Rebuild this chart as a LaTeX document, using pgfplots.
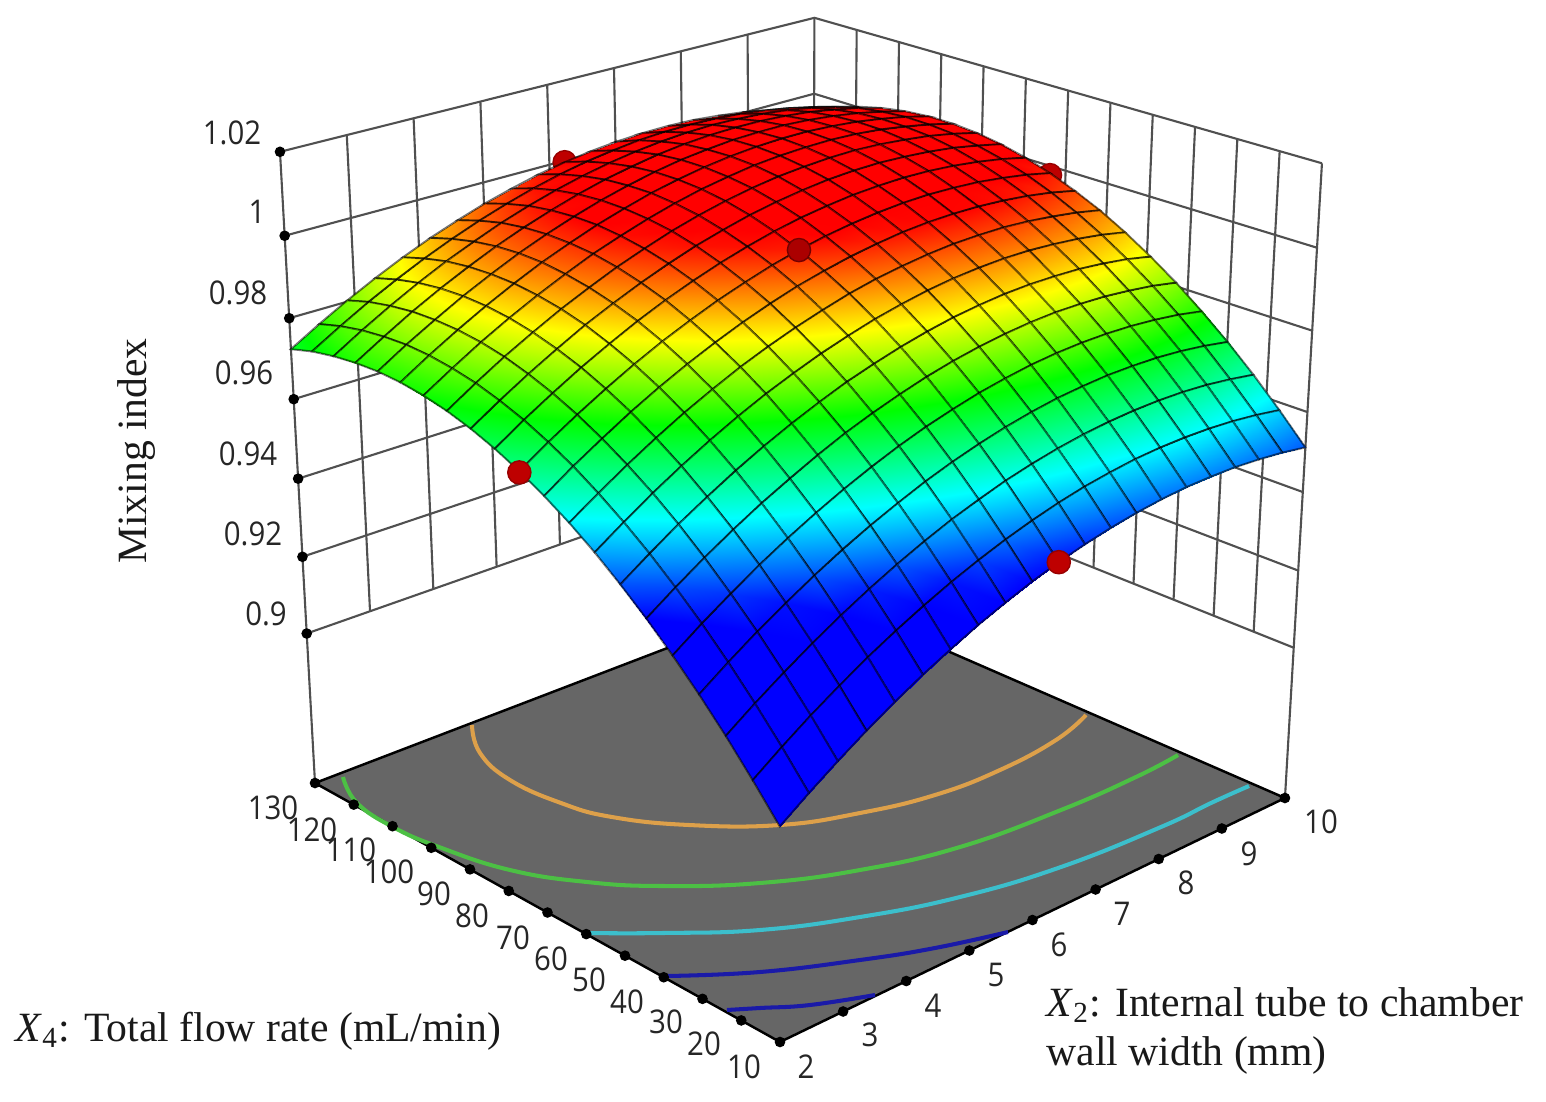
\documentclass[border=0pt]{standalone}
\usepackage{fontspec}
\setmainfont{Liberation Serif}
\newfontfamily\tickfont{Open Sans}
\usepackage{pgfplots}
\usepackage{pgfplotstable}
\pgfplotsset{compat=1.18}
\definecolor{wallline}{HTML}{505050}
\definecolor{floorgray}{HTML}{666666}
\definecolor{cOrange}{HTML}{DDA04A}
\definecolor{cGreen}{HTML}{4CC044}
\definecolor{cCyan}{HTML}{3CBFCC}
\definecolor{cBlue}{HTML}{1A1AA8}
\definecolor{dotred}{HTML}{BE0000}

% mixing index: X2, X4, z (back corner first)
\pgfplotstableread[row sep=\\]{
a b c\\
10 130 .9958\\ 9.6 130 .9976\\ 9.2 130 .9990\\ 8.8 130 1.0002\\ 8.4 130 1.0010\\ 8 130 1.0016\\ 7.6 130 1.0018\\ 7.2 130 1.0017\\ 6.8 130 1.0013\\ 6.4 130 1.0006\\ 6 130 .9996\\ 5.6 130 .9983\\ 5.2 130 .9966\\ 4.8 130 .9947\\ 4.4 130 .9924\\ 4 130 .9899\\ 3.6 130 .9870\\ 3.2 130 .9838\\ 2.8 130 .9803\\ 2.4 130 .9765\\ 2 130 .9724\\
10 124 .9983\\ 9.6 124 1.0000\\ 9.2 124 1.0014\\ 8.8 124 1.0025\\ 8.4 124 1.0033\\ 8 124 1.0038\\ 7.6 124 1.0040\\ 7.2 124 1.0039\\ 6.8 124 1.0035\\ 6.4 124 1.0027\\ 6 124 1.0017\\ 5.6 124 1.0003\\ 5.2 124 .9986\\ 4.8 124 .9966\\ 4.4 124 .9943\\ 4 124 .9917\\ 3.6 124 .9888\\ 3.2 124 .9856\\ 2.8 124 .9821\\ 2.4 124 .9782\\ 2 124 .9741\\
10 118 1.0002\\ 9.6 118 1.0019\\ 9.2 118 1.0033\\ 8.8 118 1.0044\\ 8.4 118 1.0052\\ 8 118 1.0056\\ 7.6 118 1.0058\\ 7.2 118 1.0056\\ 6.8 118 1.0051\\ 6.4 118 1.0043\\ 6 118 1.0032\\ 5.6 118 1.0018\\ 5.2 118 1.0001\\ 4.8 118 .9981\\ 4.4 118 .9958\\ 4 118 .9931\\ 3.6 118 .9902\\ 3.2 118 .9869\\ 2.8 118 .9833\\ 2.4 118 .9794\\ 2 118 .9752\\
10 112 1.0017\\ 9.6 112 1.0034\\ 9.2 112 1.0047\\ 8.8 112 1.0058\\ 8.4 112 1.0065\\ 8 112 1.0069\\ 7.6 112 1.0070\\ 7.2 112 1.0068\\ 6.8 112 1.0063\\ 6.4 112 1.0055\\ 6 112 1.0043\\ 5.6 112 1.0029\\ 5.2 112 1.0011\\ 4.8 112 .9990\\ 4.4 112 .9967\\ 4 112 .9940\\ 3.6 112 .9910\\ 3.2 112 .9877\\ 2.8 112 .9841\\ 2.4 112 .9801\\ 2 112 .9759\\
10 106 1.0027\\ 9.6 106 1.0043\\ 9.2 106 1.0056\\ 8.8 106 1.0066\\ 8.4 106 1.0073\\ 8 106 1.0077\\ 7.6 106 1.0077\\ 7.2 106 1.0075\\ 6.8 106 1.0069\\ 6.4 106 1.0061\\ 6 106 1.0049\\ 5.6 106 1.0034\\ 5.2 106 1.0016\\ 4.8 106 .9995\\ 4.4 106 .9971\\ 4 106 .9944\\ 3.6 106 .9913\\ 3.2 106 .9880\\ 2.8 106 .9843\\ 2.4 106 .9804\\ 2 106 .9761\\
10 100 1.0032\\ 9.6 100 1.0048\\ 9.2 100 1.0060\\ 8.8 100 1.0070\\ 8.4 100 1.0076\\ 8 100 1.0080\\ 7.6 100 1.0080\\ 7.2 100 1.0077\\ 6.8 100 1.0071\\ 6.4 100 1.0062\\ 6 100 1.0050\\ 5.6 100 1.0035\\ 5.2 100 1.0016\\ 4.8 100 .9995\\ 4.4 100 .9970\\ 4 100 .9943\\ 3.6 100 .9912\\ 3.2 100 .9878\\ 2.8 100 .9841\\ 2.4 100 .9801\\ 2 100 .9758\\
10 94 1.0032\\ 9.6 94 1.0047\\ 9.2 94 1.0059\\ 8.8 94 1.0069\\ 8.4 94 1.0075\\ 8 94 1.0078\\ 7.6 94 1.0077\\ 7.2 94 1.0074\\ 6.8 94 1.0068\\ 6.4 94 1.0058\\ 6 94 1.0046\\ 5.6 94 1.0030\\ 5.2 94 1.0011\\ 4.8 94 .9989\\ 4.4 94 .9965\\ 4 94 .9936\\ 3.6 94 .9905\\ 3.2 94 .9871\\ 2.8 94 .9834\\ 2.4 94 .9793\\ 2 94 .9750\\
10 88 1.0027\\ 9.6 88 1.0042\\ 9.2 88 1.0054\\ 8.8 88 1.0062\\ 8.4 88 1.0068\\ 8 88 1.0071\\ 7.6 88 1.0070\\ 7.2 88 1.0066\\ 6.8 88 1.0060\\ 6.4 88 1.0050\\ 6 88 1.0037\\ 5.6 88 1.0021\\ 5.2 88 1.0002\\ 4.8 88 .9979\\ 4.4 88 .9954\\ 4 88 .9925\\ 3.6 88 .9894\\ 3.2 88 .9859\\ 2.8 88 .9822\\ 2.4 88 .9781\\ 2 88 .9737\\
10 82 1.0017\\ 9.6 82 1.0031\\ 9.2 82 1.0043\\ 8.8 82 1.0051\\ 8.4 82 1.0056\\ 8 82 1.0059\\ 7.6 82 1.0058\\ 7.2 82 1.0054\\ 6.8 82 1.0046\\ 6.4 82 1.0036\\ 6 82 1.0023\\ 5.6 82 1.0006\\ 5.2 82 .9987\\ 4.8 82 .9964\\ 4.4 82 .9938\\ 4 82 .9909\\ 3.6 82 .9878\\ 3.2 82 .9842\\ 2.8 82 .9804\\ 2.4 82 .9763\\ 2 82 .9719\\
10 76 1.0002\\ 9.6 76 1.0016\\ 9.2 76 1.0027\\ 8.8 76 1.0035\\ 8.4 76 1.0040\\ 8 76 1.0042\\ 7.6 76 1.0040\\ 7.2 76 1.0036\\ 6.8 76 1.0028\\ 6.4 76 1.0018\\ 6 76 1.0004\\ 5.6 76 .9987\\ 5.2 76 .9967\\ 4.8 76 .9944\\ 4.4 76 .9918\\ 4 76 .9889\\ 3.6 76 .9856\\ 3.2 76 .9821\\ 2.8 76 .9782\\ 2.4 76 .9741\\ 2 76 .9696\\
10 70 .9982\\ 9.6 70 .9996\\ 9.2 70 1.0006\\ 8.8 70 1.0014\\ 8.4 70 1.0018\\ 8 70 1.0020\\ 7.6 70 1.0018\\ 7.2 70 1.0013\\ 6.8 70 1.0005\\ 6.4 70 .9994\\ 6 70 .9980\\ 5.6 70 .9963\\ 5.2 70 .9942\\ 4.8 70 .9919\\ 4.4 70 .9892\\ 4 70 .9863\\ 3.6 70 .9830\\ 3.2 70 .9794\\ 2.8 70 .9755\\ 2.4 70 .9713\\ 2 70 .9668\\
10 64 .9957\\ 9.6 64 .9971\\ 9.2 64 .9981\\ 8.8 64 .9988\\ 8.4 64 .9992\\ 8 64 .9993\\ 7.6 64 .9991\\ 7.2 64 .9986\\ 6.8 64 .9977\\ 6.4 64 .9966\\ 6 64 .9951\\ 5.6 64 .9934\\ 5.2 64 .9913\\ 4.8 64 .9889\\ 4.4 64 .9862\\ 4 64 .9832\\ 3.6 64 .9799\\ 3.2 64 .9763\\ 2.8 64 .9723\\ 2.4 64 .9681\\ 2 64 .9635\\
10 58 .9928\\ 9.6 58 .9941\\ 9.2 58 .9950\\ 8.8 58 .9957\\ 8.4 58 .9961\\ 8 58 .9961\\ 7.6 58 .9959\\ 7.2 58 .9953\\ 6.8 58 .9944\\ 6.4 58 .9933\\ 6 58 .9918\\ 5.6 58 .9899\\ 5.2 58 .9878\\ 4.8 58 .9854\\ 4.4 58 .9827\\ 4 58 .9796\\ 3.6 58 .9763\\ 3.2 58 .9726\\ 2.8 58 .9686\\ 2.4 58 .9643\\ 2 58 .9598\\
10 52 .9893\\ 9.6 52 .9906\\ 9.2 52 .9915\\ 8.8 52 .9921\\ 8.4 52 .9925\\ 8 52 .9925\\ 7.6 52 .9922\\ 7.2 52 .9916\\ 6.8 52 .9907\\ 6.4 52 .9894\\ 6 52 .9879\\ 5.6 52 .9860\\ 5.2 52 .9839\\ 4.8 52 .9814\\ 4.4 52 .9787\\ 4 52 .9756\\ 3.6 52 .9722\\ 3.2 52 .9685\\ 2.8 52 .9645\\ 2.4 52 .9601\\ 2 52 .9555\\
10 46 .9853\\ 9.6 46 .9866\\ 9.2 46 .9875\\ 8.8 46 .9881\\ 8.4 46 .9883\\ 8 46 .9883\\ 7.6 46 .9880\\ 7.2 46 .9873\\ 6.8 46 .9864\\ 6.4 46 .9851\\ 6 46 .9835\\ 5.6 46 .9816\\ 5.2 46 .9795\\ 4.8 46 .9769\\ 4.4 46 .9741\\ 4 46 .9710\\ 3.6 46 .9676\\ 3.2 46 .9638\\ 2.8 46 .9598\\ 2.4 46 .9554\\ 2 46 .9507\\
10 40 .9809\\ 9.6 40 .9821\\ 9.2 40 .9829\\ 8.8 40 .9835\\ 8.4 40 .9837\\ 8 40 .9837\\ 7.6 40 .9833\\ 7.2 40 .9826\\ 6.8 40 .9816\\ 6.4 40 .9803\\ 6 40 .9787\\ 5.6 40 .9767\\ 5.2 40 .9745\\ 4.8 40 .9720\\ 4.4 40 .9691\\ 4 40 .9659\\ 3.6 40 .9625\\ 3.2 40 .9587\\ 2.8 40 .9546\\ 2.4 40 .9502\\ 2 40 .9455\\
10 34 .9759\\ 9.6 34 .9771\\ 9.2 34 .9779\\ 8.8 34 .9784\\ 8.4 34 .9786\\ 8 34 .9785\\ 7.6 34 .9781\\ 7.2 34 .9774\\ 6.8 34 .9763\\ 6.4 34 .9750\\ 6 34 .9733\\ 5.6 34 .9714\\ 5.2 34 .9691\\ 4.8 34 .9665\\ 4.4 34 .9636\\ 4 34 .9604\\ 3.6 34 .9569\\ 3.2 34 .9531\\ 2.8 34 .9489\\ 2.4 34 .9445\\ 2 34 .9397\\
10 28 .9705\\ 9.6 28 .9716\\ 9.2 28 .9724\\ 8.8 28 .9729\\ 8.4 28 .9730\\ 8 28 .9729\\ 7.6 28 .9724\\ 7.2 28 .9717\\ 6.8 28 .9706\\ 6.4 28 .9692\\ 6 28 .9675\\ 5.6 28 .9655\\ 5.2 28 .9632\\ 4.8 28 .9605\\ 4.4 28 .9576\\ 4 28 .9544\\ 3.6 28 .9508\\ 3.2 28 .9469\\ 2.8 28 .9428\\ 2.4 28 .9383\\ 2 28 .9335\\
10 22 .9646\\ 9.6 22 .9656\\ 9.2 22 .9664\\ 8.8 22 .9668\\ 8.4 22 .9669\\ 8 22 .9667\\ 7.6 22 .9662\\ 7.2 22 .9654\\ 6.8 22 .9643\\ 6.4 22 .9629\\ 6 22 .9612\\ 5.6 22 .9591\\ 5.2 22 .9568\\ 4.8 22 .9541\\ 4.4 22 .9511\\ 4 22 .9478\\ 3.6 22 .9442\\ 3.2 22 .9403\\ 2.8 22 .9361\\ 2.4 22 .9316\\ 2 22 .9268\\
10 16 .9581\\ 9.6 16 .9591\\ 9.2 16 .9598\\ 8.8 16 .9602\\ 8.4 16 .9603\\ 8 16 .9601\\ 7.6 16 .9596\\ 7.2 16 .9587\\ 6.8 16 .9576\\ 6.4 16 .9561\\ 6 16 .9543\\ 5.6 16 .9522\\ 5.2 16 .9498\\ 4.8 16 .9471\\ 4.4 16 .9441\\ 4 16 .9408\\ 3.6 16 .9372\\ 3.2 16 .9332\\ 2.8 16 .9290\\ 2.4 16 .9244\\ 2 16 .9195\\
10 10 .9512\\ 9.6 10 .9522\\ 9.2 10 .9528\\ 8.8 10 .9532\\ 8.4 10 .9532\\ 8 10 .9530\\ 7.6 10 .9524\\ 7.2 10 .9515\\ 6.8 10 .9503\\ 6.4 10 .9488\\ 6 10 .9470\\ 5.6 10 .9449\\ 5.2 10 .9424\\ 4.8 10 .9397\\ 4.4 10 .9366\\ 4 10 .9333\\ 3.6 10 .9296\\ 3.2 10 .9256\\ 2.8 10 .9213\\ 2.4 10 .9167\\ 2 10 .9118\\
}\surfdata

\pgfplotsset{
  /pgfplots/table/proj/.style={
    row sep=\\,
    x expr={px(\thisrow{a},\thisrow{b},\thisrow{c})},
    y expr={py(\thisrow{a},\thisrow{b},\thisrow{c})},
  },
  % ticks and wall lines are evenly spaced along the box edges
  /pgfplots/table/edge/.style={
    row sep=\\,
    x expr={ex(\thisrow{a},\thisrow{b},\thisrow{c})},
    y expr={ey(\thisrow{a},\thisrow{b},\thisrow{c})},
  },
}
\tikzset{
  tl/.style={font=\fontsize{9.3}{11}\tickfont, xscale=.9, text=black!85, inner sep=0pt},
  lab/.style={font=\fontsize{11.85}{14}\selectfont, text=black!90, inner sep=0pt},
  wall/.style={wallline, line width=.6pt},
  cont/.style={smooth, tension=.75, line width=1.15pt},
}

\begin{document}
\begin{tikzpicture}
\useasboundingbox (0,0) rectangle (15.46cm,11.02cm);
\begin{axis}[
  at={(0,0)}, anchor=south west,
  scale only axis, width=15.46cm, height=11.02cm,
  xmin=0, xmax=1546, ymin=0, ymax=1102, y dir=reverse,
  hide axis, clip marker paths=true,
  declare function={
    uu(\a)=(\a-2)/8;
    vv(\b)=(\b-10)/120;
    ww(\c)=(\c-0.86)/0.16;
    dd(\a,\b,\c)=1+0.1307*uu(\a)+0.1384*vv(\b)-0.0784*ww(\c);
    px(\a,\b,\c)=(780+672.9*uu(\a)-421.4*vv(\b)-61.8*ww(\c))/dd(\a,\b,\c);
    py(\a,\b,\c)=(1042-139.7*uu(\a)-150.6*vv(\b)-730.5*ww(\c))/dd(\a,\b,\c);
    ex(\a,\b,\c)=(1-uu(\a))*(1-vv(\b))*px(2,10,\c)+uu(\a)*(1-vv(\b))*px(10,10,\c)+(1-uu(\a))*vv(\b)*px(2,130,\c)+uu(\a)*vv(\b)*px(10,130,\c);
    ey(\a,\b,\c)=(1-uu(\a))*(1-vv(\b))*py(2,10,\c)+uu(\a)*(1-vv(\b))*py(10,10,\c)+(1-uu(\a))*vv(\b)*py(2,130,\c)+uu(\a)*vv(\b)*py(10,130,\c);
  },
  colormap={mixing}{rgb255(0)=(0,0,255) rgb255(29)=(0,255,255) rgb255(57)=(0,255,0) rgb255(81)=(255,255,0) rgb255(107)=(255,0,0)},
  point meta min=0.946, point meta max=0.9995,
]

% wall grid
\pgfplotsinvokeforeach{0.90,0.92,0.94,0.96,0.98,1.00,1.02}{
  \addplot[wall] table[proj]{a b c\\ 2 130 #1\\ 10 130 #1\\ 10 10 #1\\};
}
\pgfplotsinvokeforeach{3,4,5,6,7,8,9}{
  \addplot[wall] table[edge]{a b c\\ #1 130 0.90\\ #1 130 1.02\\};
}
\pgfplotsinvokeforeach{20,30,40,50,60,70,80,90,100,110,120,130}{
  \addplot[wall] table[edge]{a b c\\ 10 #1 0.90\\ 10 #1 1.02\\};
}
\addplot[wall] table[proj]{a b c\\ 2 130 0.86\\ 2 130 1.02\\};
\addplot[wall] table[proj]{a b c\\ 10 10 0.86\\ 10 10 1.02\\};

% floor
\addplot[fill=floorgray, draw=black, line width=.7pt] table[proj]{a b c\\ 2 10 0.86\\ 10 10 0.86\\ 10 130 0.86\\ 2 130 0.86\\ 2 10 0.86\\};

% contours on the floor
\addplot[cont, cOrange] coordinates {(472,725) (480,753) (510,780) (561,803) (612,817) (689,825) (780,825) (860,813) (935,795) (1000,770) (1056,740) (1086,715)};
\addplot[cont, cGreen] coordinates {(343,777) (357,803) (393,827) (439,847) (510,870) (587,882) (663,886) (760,883) (860,870) (960,847) (1061,810) (1136,777) (1178,755)};
\addplot[cont, cCyan] coordinates {(587,933) (663,933) (760,930) (860,917) (960,897) (1061,867) (1161,827) (1211,803) (1249,786)};
\addplot[cont, cBlue] coordinates {(666,976) (760,972) (860,960) (935,948) (1008,932)};
\addplot[cont, cBlue] coordinates {(727,1010) (760,1008) (810,1005) (875,995)};

% floor and z tick dots
\addplot[only marks, mark=*, mark size=1.3pt, black] table[edge]{a b c\\ 2 10 0.86\\ 3 10 0.86\\ 4 10 0.86\\ 5 10 0.86\\ 6 10 0.86\\ 7 10 0.86\\ 8 10 0.86\\ 9 10 0.86\\ 10 10 0.86\\ 2 20 0.86\\ 2 30 0.86\\ 2 40 0.86\\ 2 50 0.86\\ 2 60 0.86\\ 2 70 0.86\\ 2 80 0.86\\ 2 90 0.86\\ 2 100 0.86\\ 2 110 0.86\\ 2 120 0.86\\ 2 130 0.86\\ 2 130 0.90\\ 2 130 0.92\\ 2 130 0.94\\ 2 130 0.96\\ 2 130 0.98\\ 2 130 1.00\\ 2 130 1.02\\};

% design points behind the surface
\addplot[only marks, mark=*, mark size=3.3pt, mark options={fill=dotred, draw=dotred!80!black}] table[proj]{a b c\\ 6 130 0.9996\\ 10 70 0.9977\\};

% response surface
\addplot[surf, shader=faceted interp, faceted color=black, draw opacity=.55, line width=.55pt, mesh/cols=21, point meta=explicit]
  table[x expr={px(\thisrow{a},\thisrow{b},\thisrow{c})}, y expr={py(\thisrow{a},\thisrow{b},\thisrow{c})}, meta=c] {\surfdata};

% design points on the surface
\addplot[only marks, mark=*, mark size=3.3pt, mark options={fill=dotred, draw=dotred!80!black}] table[proj]{a b c\\ 2 70 0.9665\\ 6 10 0.947\\};
\addplot[only marks, mark=*, mark size=3.3pt, mark options={fill=dotred!90!black, draw=dotred!60!black}] table[proj]{a b c\\ 6 70 0.998\\};

% tick labels
\node[tl] at (axis cs:232,133) {1.02};
\node[tl] at (axis cs:257,212) {1};
\node[tl] at (axis cs:238,293) {0.98};
\node[tl] at (axis cs:244,373) {0.96};
\node[tl] at (axis cs:248,454) {0.94};
\node[tl] at (axis cs:253,534) {0.92};
\node[tl] at (axis cs:266,614) {0.9};
\node[tl] at (axis cs:273,808) {130};
\node[tl] at (axis cs:312,830) {120};
\node[tl] at (axis cs:351,850) {110};
\node[tl] at (axis cs:389,872) {100};
\node[tl] at (axis cs:434,894) {90};
\node[tl] at (axis cs:472,916) {80};
\node[tl] at (axis cs:513,938) {70};
\node[tl] at (axis cs:551,959) {60};
\node[tl] at (axis cs:589,980) {50};
\node[tl] at (axis cs:627,1002) {40};
\node[tl] at (axis cs:666,1022) {30};
\node[tl] at (axis cs:704,1044) {20};
\node[tl] at (axis cs:744,1067) {10};
\node[tl] at (axis cs:806,1067) {2};
\node[tl] at (axis cs:870,1035) {3};
\node[tl] at (axis cs:933,1006) {4};
\node[tl] at (axis cs:996,975) {5};
\node[tl] at (axis cs:1059,945) {6};
\node[tl] at (axis cs:1122,914) {7};
\node[tl] at (axis cs:1186,883) {8};
\node[tl] at (axis cs:1249,854) {9};
\node[tl] at (axis cs:1321,822) {10};

% axis titles
\node[lab, rotate=90] at (axis cs:137,451) {Mixing index};
\node[lab, anchor=west] at (axis cs:15,1031) {\textit{X}\textsubscript{4}: Total flow rate (mL/min)};
\node[lab, anchor=west] at (axis cs:1046,1005) {\textit{X}\textsubscript{2}: Internal tube to chamber};
\node[lab, anchor=west] at (axis cs:1046,1055) {wall width (mm)};
\end{axis}
\end{tikzpicture}
\end{document}
